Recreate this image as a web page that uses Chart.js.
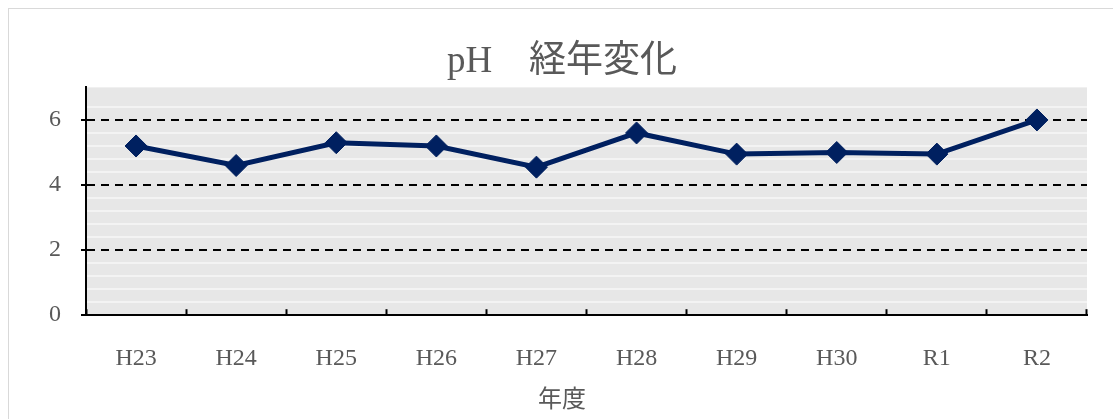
<!DOCTYPE html>
<html>
<head>
<meta charset="utf-8">
<script src="https://cdn.jsdelivr.net/npm/chart.js@4"></script>
<style>
  body { margin: 0; background: #fff; }
  #frame { position: absolute; left: 8px; top: 8px; width: 1200px; height: 500px; border: 1px solid #d9d9d9; box-sizing: border-box; }
  #myChart { position: absolute; left: 0; top: 0; }
</style>
</head>
<body>
<div id="frame"></div>
<canvas id="myChart" width="1113" height="419"></canvas>
<script>
const years = ['H23', 'H24', 'H25', 'H26', 'H27', 'H28', 'H29', 'H30', 'R1', 'R2'];
const phValues = [5.2, 4.6, 5.3, 5.2, 4.55, 5.6, 4.95, 5.0, 4.95, 6.0];
const yTicks = [0, 2, 4, 6];

const FONT = "'Liberation Serif', 'Noto Sans CJK JP', serif";
const GREY = '#595959';

// grey plot background
const plotBg = {
    id: 'plotBg',
    beforeDraw(chart) {
        const a = chart.chartArea;
        const ctx = chart.ctx;
        ctx.save();
        ctx.fillStyle = '#e7e7e7';
        ctx.fillRect(a.left, a.top, a.right - a.left, a.bottom - a.top);
        ctx.restore();
    }
};

document.addEventListener('DOMContentLoaded', function () {
    const ctx = document.getElementById('myChart').getContext('2d');
    new Chart(ctx, {
        type: 'line',
        data: {
            labels: years,
            datasets: [{
                label: 'pH',
                data: phValues,
                borderColor: '#002060',
                backgroundColor: '#002060',
                borderWidth: 5,
                pointStyle: 'rectRot',
                pointRadius: 11,
                pointHoverRadius: 11,
                pointBorderWidth: 1,
                tension: 0,
                fill: false,
                yAxisID: 'y'
            }]
        },
        options: {
            responsive: false,
            animation: false,
            layout: { padding: { left: 37, right: 26, top: 0, bottom: 0 } },
            plugins: {
                legend: { display: false },
                tooltip: { enabled: false },
                title: {
                    display: true,
                    text: 'pH\u3000経年変化',
                    color: GREY,
                    font: { family: FONT, size: 37, weight: 'normal' },
                    padding: { top: 40, bottom: 3 }
                },
                // axis title "年度" is centred on the whole chart, not on the plot
                subtitle: {
                    display: true,
                    position: 'bottom',
                    text: '年度',
                    color: GREY,
                    font: { family: FONT, size: 24, weight: 'normal' },
                    padding: { top: 0, bottom: 4 }
                }
            },
            scales: {
                x: {
                    offset: true,
                    grid: {
                        offset: true,
                        drawOnChartArea: false,
                        drawTicks: true,
                        tickLength: -6,
                        tickColor: '#000',
                        tickWidth: 2
                    },
                    border: { display: true, color: '#000', width: 2 },
                    ticks: { color: GREY, font: { family: FONT, size: 24 }, padding: 35 },
                    afterFit(scale) { scale.height = 71; }
                },
                y: {
                    position: 'left',
                    min: 0,
                    max: 7,
                    afterBuildTicks(scale) { scale.ticks = yTicks.map(v => ({ value: v })); },
                    grid: {
                        color: c => (c.tick && c.tick.value === 0) ? 'rgba(0,0,0,0)' : '#000',
                        lineWidth: 2,
                        borderDash: [8, 6],
                        tickLength: 5,
                        tickColor: '#000',
                        tickWidth: 2,
                        tickBorderDash: []
                    },
                    border: { display: true, color: '#000', width: 2, dash: [8, 6] },
                    ticks: { color: GREY, font: { family: FONT, size: 24 }, padding: 20 },
                    afterFit(scale) { scale.width = 49; }
                },
                y2: {
                    position: 'left',
                    min: 0,
                    max: 7,
                    ticks: { display: false, stepSize: 0.4 },
                    grid: {
                        drawTicks: false,
                        lineWidth: 2,
                        color: c => {
                            const v = c.tick ? c.tick.value : 0;
                            return Math.abs(v / 2 - Math.round(v / 2)) < 1e-6 || v >= 7 ? 'rgba(0,0,0,0)' : '#f3f3f3';
                        }
                    },
                    border: { display: false },
                    afterFit(scale) { scale.width = 0; }
                }
            }
        },
        plugins: [plotBg]
    });
});
</script>
</body>
</html>
